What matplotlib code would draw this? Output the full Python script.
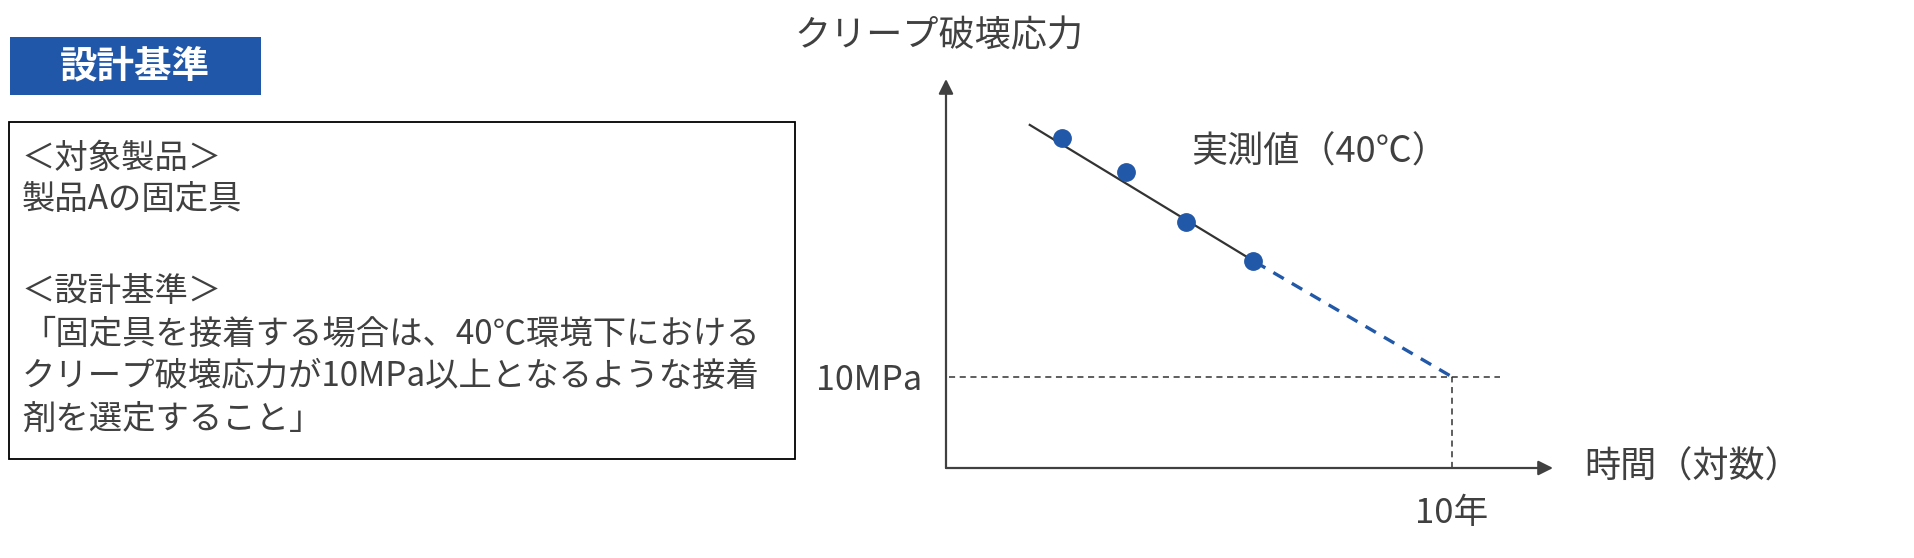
import matplotlib
matplotlib.use("Agg")
import matplotlib.pyplot as plt
from matplotlib.patches import Rectangle

plt.rcParams["font.family"] = ["Noto Sans CJK JP", "DejaVu Sans"]

# measured creep rupture points (x: log time, y: stress), arbitrary chart units
meas_x = [1.91, 2.97, 3.95, 5.06]
meas_y = [8.48, 7.61, 6.32, 5.32]
# fitted line and its extrapolation to 10 years
fit_x = [1.38, 5.09]
fit_y = [8.82, 5.30]
ext_x = [5.09, 8.34]
ext_y = [5.30, 2.34]
crit_stress = 2.34   # 10MPa
crit_time = 8.34     # 10年
guide_end = 9.13

box_lines = [
    "＜対象製品＞",
    "製品Aの固定具",
    "＜設計基準＞",
    "「固定具を接着する場合は、40℃環境下における",
    "クリープ破壊応力が10MPa以上となるような接着",
    "剤を選定すること」",
]
box_line_y = [158, 199, 291, 334, 376, 419]

W, H = 1915, 558
TXT = "#404040"
BLUE = "#2158A8"

fig = plt.figure(figsize=(W / 100, H / 100), dpi=100)

# overlay in pixel coordinates for the boxes and free text
ov = fig.add_axes([0, 0, 1, 1])
ov.set_xlim(0, W)
ov.set_ylim(H, 0)
ov.axis("off")

ov.add_patch(Rectangle((10, 37), 251, 58, facecolor="#2157A8", edgecolor="none"))
ov.text(135, 66, "設計基準", color="white", fontsize=27, fontweight="bold",
        ha="center", va="center")

ov.add_patch(Rectangle((9, 122), 786, 337, facecolor="none", edgecolor="black", lw=1.3))
for line, ly in zip(box_lines, box_line_y):
    ov.text(22, ly, line, color=TXT, fontsize=24, ha="left", va="center")

# chart axes, origin at the axis corner
x0, x1 = 946, 1553
yb, yt = 468, 79
ax = fig.add_axes([x0 / W, (H - yb) / H, (x1 - x0) / W, (yb - yt) / H])
ax.set_xlim(0, 10)
ax.set_ylim(0, 10)
ax.axis("off")

arrow = dict(arrowstyle="-|>", color=TXT, lw=1.6, mutation_scale=22,
             shrinkA=0, shrinkB=0)
ax.annotate("", xy=(1, 0), xytext=(0, 0), xycoords="axes fraction", arrowprops=arrow)
ax.annotate("", xy=(0, 1), xytext=(0, 0), xycoords="axes fraction", arrowprops=arrow)

ax.plot([0.05, guide_end], [crit_stress, crit_stress], color="#333333", lw=1.1,
        dashes=(4, 3))
ax.plot([crit_time, crit_time], [0, crit_stress], color="#333333", lw=1.1,
        dashes=(4, 3))
ax.plot(ext_x, ext_y, color=BLUE, lw=2.4, dashes=(3.6, 2.8))
ax.plot(fit_x, fit_y, color="#333333", lw=1.6)
ax.plot(meas_x, meas_y, "o", color=BLUE, markersize=12.5, zorder=5)

ax.text(4.04, 8.1, "実測値（40℃）", color=TXT, fontsize=26, ha="left", va="center")

ov.text(922, 380, "10MPa", color=TXT, fontsize=24.5, ha="right", va="center")
ov.text(1452, 513, "10年", color=TXT, fontsize=25, ha="center", va="center")
ov.text(1584, 468, "時間（対数）", color=TXT, fontsize=26, ha="left", va="center")
ov.text(794, 36, "クリープ破壊応力", color=TXT, fontsize=26, ha="left", va="center")

fig.savefig("out.png", dpi=100)
